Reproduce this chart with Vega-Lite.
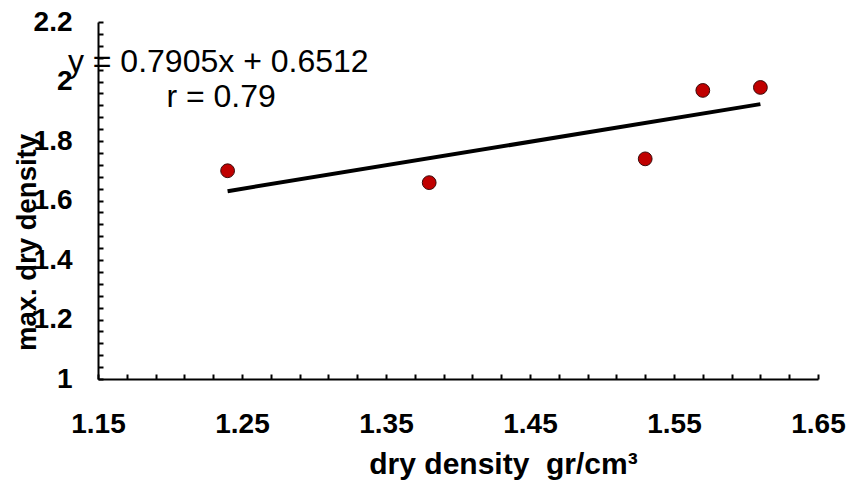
{
  "$schema": "https://vega.github.io/schema/vega-lite/v6.json",
  "width": 720,
  "height": 357,
  "autosize": "none",
  "padding": {"left": 98, "top": 22, "right": 30, "bottom": 107},
  "background": "white",
  "config": {"view": {"stroke": null}, "font": "Liberation Sans"},
  "datasets": {
    "points": [
      {"dry_density": 1.24, "max_dry_density": 1.70},
      {"dry_density": 1.38, "max_dry_density": 1.66},
      {"dry_density": 1.53, "max_dry_density": 1.74},
      {"dry_density": 1.57, "max_dry_density": 1.97},
      {"dry_density": 1.61, "max_dry_density": 1.98}
    ],
    "trend": [
      {"dry_density": 1.24, "max_dry_density": 1.6314},
      {"dry_density": 1.61, "max_dry_density": 1.9239}
    ],
    "labels": [
      {"dry_density": 1.2335, "max_dry_density": 2.031, "label": "y = 0.7905x + 0.6512"},
      {"dry_density": 1.2355, "max_dry_density": 1.913, "label": "r = 0.79"}
    ]
  },
  "encoding": {
    "x": {
      "field": "dry_density",
      "type": "quantitative",
      "scale": {"domain": [1.15, 1.65], "nice": false, "zero": false},
      "axis": {
        "title": "dry density\u00a0\u00a0gr/cm³",
        "values": [1.15,1.17,1.19,1.21,1.23,1.25,1.27,1.29,1.31,1.33,1.35,1.37,1.39,1.41,1.43,1.45,1.47,1.49,1.51,1.53,1.55,1.57,1.59,1.61,1.63,1.65],
        "labelExpr": "abs((datum.value - 1.15)*10 - round((datum.value - 1.15)*10)) < 0.001 ? format(datum.value, '.2f') : ''",
        "grid": false,
        "tickSize": -5,
        "tickColor": "black",
        "tickWidth": 2,
        "domainColor": "black",
        "domainWidth": 2,
        "labelFont": "Liberation Sans",
        "labelFontWeight": "bold",
        "labelFontSize": 28,
        "labelColor": "black",
        "labelBaseline": "alphabetic",
        "labelPadding": 58,
        "labelOverlap": false,
        "labelBound": false,
        "labelFlush": false,
        "titleFont": "Liberation Sans",
        "titleFontSize": 30,
        "titleFontWeight": "bold",
        "titleColor": "black",
        "titleX": 405,
        "titleY": 94,
        "titleAlign": "center",
        "titleBaseline": "alphabetic"
      }
    },
    "y": {
      "field": "max_dry_density",
      "type": "quantitative",
      "scale": {"domain": [1, 2.2], "nice": false, "zero": false},
      "axis": {
        "title": "max. dry density",
        "values": [1,1.04,1.08,1.12,1.16,1.2,1.24,1.28,1.32,1.36,1.4,1.44,1.48,1.52,1.56,1.6,1.64,1.68,1.72,1.76,1.8,1.84,1.88,1.92,1.96,2,2.04,2.08,2.12,2.16,2.2],
        "labelExpr": "abs(datum.value*5 - round(datum.value*5)) < 0.001 ? format(datum.value, '.1~f') : ''",
        "grid": false,
        "tickSize": -5,
        "tickColor": "black",
        "tickWidth": 2,
        "domainColor": "black",
        "domainWidth": 2,
        "labelFont": "Liberation Sans",
        "labelFontWeight": "bold",
        "labelFontSize": 28,
        "labelColor": "black",
        "labelPadding": 31,
        "labelOverlap": false,
        "labelBound": false,
        "labelFlush": false,
        "titleFont": "Liberation Sans",
        "titleFontSize": 27.5,
        "titleFontWeight": "bold",
        "titleColor": "black",
        "titleX": -63,
        "titleY": 220,
        "titleAngle": 270,
        "titleAlign": "center",
        "titleBaseline": "alphabetic"
      }
    }
  },
  "layer": [
    {
      "data": {"name": "trend"},
      "mark": {"type": "line", "color": "black", "strokeWidth": 4}
    },
    {
      "data": {"name": "points"},
      "mark": {"type": "circle", "fill": "#C00000", "stroke": "#3a0a0a", "strokeWidth": 1, "size": 190, "opacity": 1}
    },
    {
      "data": {"name": "labels"},
      "mark": {"type": "text", "fontSize": 32, "font": "Liberation Sans", "align": "center", "baseline": "alphabetic", "color": "black"},
      "encoding": {"text": {"field": "label", "type": "nominal"}}
    }
  ]
}
